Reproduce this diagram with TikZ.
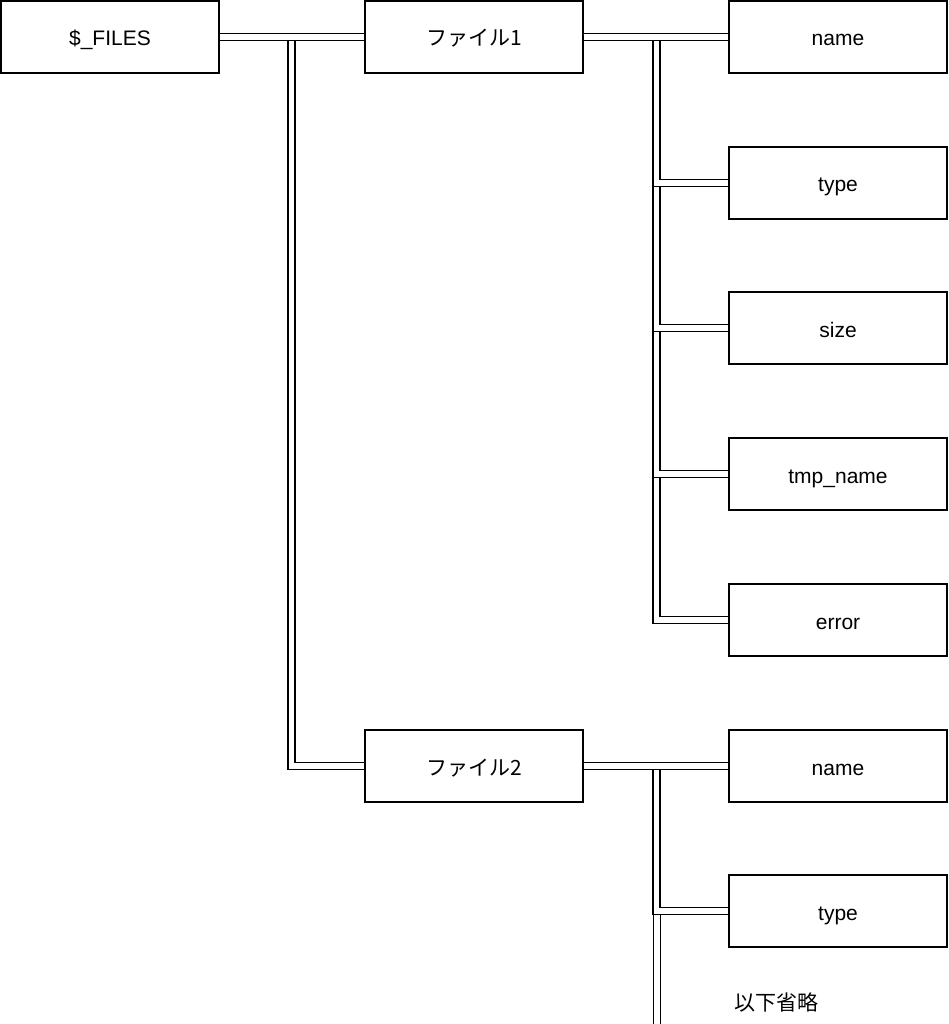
\documentclass[tikz,border=0pt]{standalone}
\usepackage{fontspec}
\setmainfont{Liberation Sans}
\newfontfamily\jpfont{Noto Sans CJK JP}
\begin{document}
\begin{tikzpicture}[x=1pt,y=-1pt,
    box/.style={draw,line width=1.3pt,minimum width=218pt,minimum height=72pt,inner sep=0pt,text height=18pt,text depth=0pt,font=\fontsize{21pt}{25pt}\selectfont},
    dbl/.style={draw,line width=1.3pt,double=white,double distance=5.7pt}]
    \useasboundingbox (0,0) rectangle (949,1024);

    \node [box] (files) at (110,37) {\$\_FILES};
    \node [box] (f1) at (474,37) {\jpfont ファイル1};
    \node [box] (f2) at (474,766) {\jpfont ファイル2};

    \node [box] (name1) at (838,37) {name};
    \node [box] (type1) at (838,183) {type};
    \node [box] (size1) at (838,328) {size};
    \node [box] (tmp1) at (838,474) {tmp\_name};
    \node [box] (error1) at (838,620) {error};

    \node [box] (name2) at (838,766) {name};
    \node [box] (type2) at (838,911) {type};
    \node [font=\jpfont\fontsize{21pt}{25pt}\selectfont] (rest) at (776,1002) {以下省略};
    \coordinate (end2) at (657,1030);

    %\draw [dbl] (files.east) -- (f1.west);
    \draw [dbl] (files.east) -| ([xshift=-73pt]f2.west) -- (f2.west);
    \draw [dbl] (files.east) -- (f1.west);

    \draw [dbl] (f1.east) -| ([xshift=-72pt]error1.west) -- (error1.west);
    \draw [dbl] (f1.east) -| ([xshift=-72pt]tmp1.west) -- (tmp1.west);
    \draw [dbl] (f1.east) -| ([xshift=-72pt]size1.west) -- (size1.west);
    \draw [dbl] (f1.east) -| ([xshift=-72pt]type1.west) -- (type1.west);
    \draw [dbl] (f1.east) -- (name1.west);

    \draw [dbl] (f2.east) -| (end2);
    \draw [dbl] (f2.east) -| ([xshift=-72pt]type2.west) -- (type2.west);
    \draw [dbl] (f2.east) -- (name2.west);
\end{tikzpicture}
\end{document}
